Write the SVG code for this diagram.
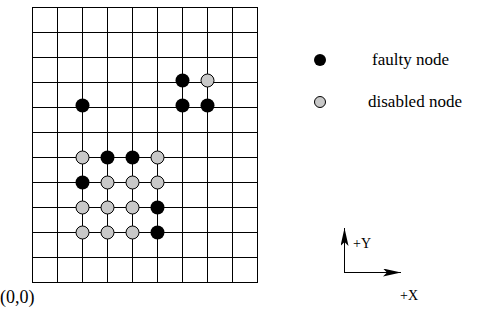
<svg xmlns="http://www.w3.org/2000/svg" width="491" height="332" viewBox="0 0 491 332">
<style>
.g{stroke:#000;stroke-width:1;fill:none}
.f{fill:#000}
.d{fill:#c8c8c8;stroke:#000;stroke-width:1}
text{font-family:"Liberation Serif","Times New Roman",serif;fill:#000}
.ax{stroke:#000;stroke-width:1;fill:none}
</style>
<defs>
<marker id="ah" viewBox="0 0 18 8" refX="18" refY="4" markerWidth="18" markerHeight="8" markerUnits="userSpaceOnUse" orient="auto">
<path d="M0,0 L18,4 L0,8 L4,4 Z" fill="#000"/>
</marker>
</defs>
<g id="grid">
<rect class="g" x="32.5" y="7.5" width="225" height="275"/>
<path class="g" d="M57.5,7.5V282.5M82.5,7.5V282.5M107.5,7.5V282.5M132.5,7.5V282.5M157.5,7.5V282.5M182.5,7.5V282.5M207.5,7.5V282.5M232.5,7.5V282.5"/>
<path class="g" d="M32.5,32.5H257.5M32.5,57.5H257.5M32.5,82.5H257.5M32.5,107.5H257.5M32.5,132.5H257.5M32.5,157.5H257.5M32.5,182.5H257.5M32.5,207.5H257.5M32.5,232.5H257.5M32.5,257.5H257.5"/>
</g>
<g id="nodes">
<circle class="f" cx="182.5" cy="80.5" r="7"/>
<circle class="d" cx="207.5" cy="80.5" r="6.5"/>
<circle class="f" cx="82.5" cy="105.5" r="7"/>
<circle class="f" cx="182.5" cy="105.5" r="7"/>
<circle class="f" cx="207.5" cy="105.5" r="7"/>
<circle class="d" cx="82.5" cy="157.5" r="6.5"/>
<circle class="f" cx="107.5" cy="157.5" r="7"/>
<circle class="f" cx="132.5" cy="157.5" r="7"/>
<circle class="d" cx="157.5" cy="157.5" r="6.5"/>
<circle class="f" cx="82.5" cy="182.5" r="7"/>
<circle class="d" cx="107.5" cy="182.5" r="6.5"/>
<circle class="d" cx="132.5" cy="182.5" r="6.5"/>
<circle class="d" cx="157.5" cy="182.5" r="6.5"/>
<circle class="d" cx="82.5" cy="207.5" r="6.5"/>
<circle class="d" cx="107.5" cy="207.5" r="6.5"/>
<circle class="d" cx="132.5" cy="207.5" r="6.5"/>
<circle class="f" cx="157.5" cy="207.5" r="7"/>
<circle class="d" cx="82.5" cy="232.5" r="6.5"/>
<circle class="d" cx="107.5" cy="232.5" r="6.5"/>
<circle class="d" cx="132.5" cy="232.5" r="6.5"/>
<circle class="f" cx="157.5" cy="232.5" r="7"/>
</g>
<g id="legend">
<circle class="f" cx="320" cy="60" r="6"/>
<text x="372" y="65" font-size="17">faulty node</text>
<circle class="d" cx="320" cy="102" r="5.5"/>
<text x="368" y="107" font-size="17">disabled node</text>
</g>
<g id="axes">
<path class="ax" d="M344.5,273V228" marker-end="url(#ah)"/>
<path class="ax" d="M344,272.5H401" marker-end="url(#ah)"/>
<text x="353" y="248" font-size="14">+Y</text>
<text x="400" y="300" font-size="14">+X</text>
</g>
<text x="0" y="303" font-size="18">(0,0)</text>
</svg>
